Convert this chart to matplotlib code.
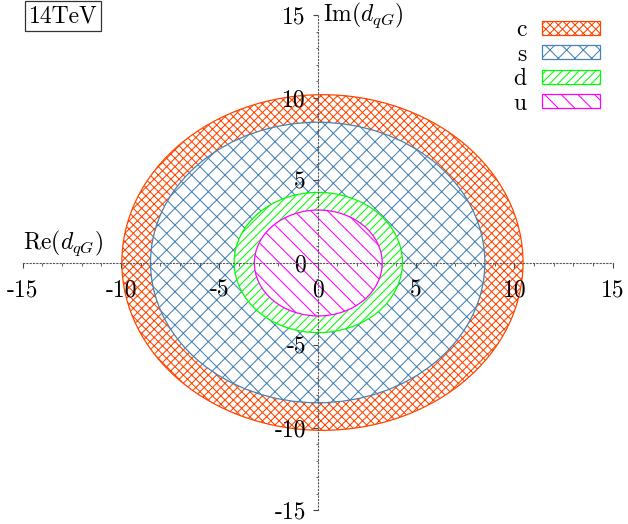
import matplotlib
matplotlib.use("Agg")
import matplotlib.pyplot as plt
from matplotlib.patches import Ellipse, Patch

# data
quarks = ['c', 's', 'd', 'u']
center_x = [0.24, 0.0, 0.03, 0.03]
center_y = [0.0, 0.0, 0.0, -0.03]
semi_re = [10.2, 8.5, 4.28, 3.25]
semi_im = [10.17, 8.5, 4.25, 3.21]
colors = ['#FF4500', '#4682B4', '#00FF00', '#FF00FF']
hatches = ['xxxx', 'xx', '////', '\\\\']
tick_vals = [-15, -10, -5, 0, 5, 10, 15]
tick_labels = ['-15', '-10', '-5', '0', '5', '10', '15']

FS = 17

plt.rcParams['font.family'] = 'cmr10'
plt.rcParams['mathtext.fontset'] = 'cm'
plt.rcParams['axes.unicode_minus'] = False
plt.rcParams['hatch.linewidth'] = 0.75

fig = plt.figure(figsize=(6.28, 5.24), dpi=100)
ax = fig.add_axes([22.7/628, 14/524, 590/628, 495/524])
ax.set_xlim(-15, 15)
ax.set_ylim(-15, 15)

for i in range(len(quarks)):
    e = Ellipse((center_x[i], center_y[i]), 2*semi_re[i], 2*semi_im[i],
                facecolor='white', edgecolor=colors[i], hatch=hatches[i],
                lw=0.9, zorder=1+i*0.1)
    ax.add_patch(e)

for s in ['top', 'right']:
    ax.spines[s].set_visible(False)
for s in ['left', 'bottom']:
    ax.spines[s].set_position(('data', 0))
    ax.spines[s].set_linestyle((0, (1, 2)))
    ax.spines[s].set_color('#555555')
    ax.spines[s].set_linewidth(0.8)
    ax.spines[s].set_zorder(5)

ax.set_xticks(tick_vals)
ax.set_xticklabels(tick_labels)
ax.set_yticks(tick_vals)
ax.set_yticklabels(tick_labels)
ax.set_xticks(range(-15, 16), minor=True)
ax.set_yticks(range(-15, 16), minor=True)
ax.tick_params(which='major', direction='out', length=3.5, width=0.8,
               color='#444444', labelsize=FS)
ax.tick_params(which='minor', direction='out', length=1.8, width=0.6,
               color='#444444')
ax.tick_params(axis='x', which='major', pad=9)
ax.tick_params(axis='y', which='major', pad=5)
for t in ax.get_xticklabels() + ax.get_yticklabels():
    t.set_zorder(6)

ax.text(-15, 0.3, r'$\mathrm{Re}(d_{qG})$', ha='left', va='bottom',
        fontsize=FS, zorder=6)
ax.text(0.25, 15, r'$\mathrm{Im}(d_{qG})$', ha='left', va='center',
        fontsize=FS, zorder=6)

fig.text(63/628, 1 - 16/524, '14TeV', ha='center', va='center',
         fontsize=FS,
         bbox=dict(boxstyle='square,pad=0.15', facecolor='white',
                   edgecolor='#333333', linewidth=0.9))

handles = [Patch(facecolor='white', edgecolor=colors[i], hatch=hatches[i],
                 lw=0.9) for i in range(len(quarks))]
leg = ax.legend(handles, quarks, loc='upper right',
                bbox_to_anchor=((600-22.7)/590, 0.992),
                frameon=False, markerfirst=False, fontsize=FS,
                handlelength=2.47, handleheight=0.55, handletextpad=0.65,
                labelspacing=0.1, borderpad=0, borderaxespad=0)
leg.set_zorder(7)

fig.savefig('out.png', dpi=100)
